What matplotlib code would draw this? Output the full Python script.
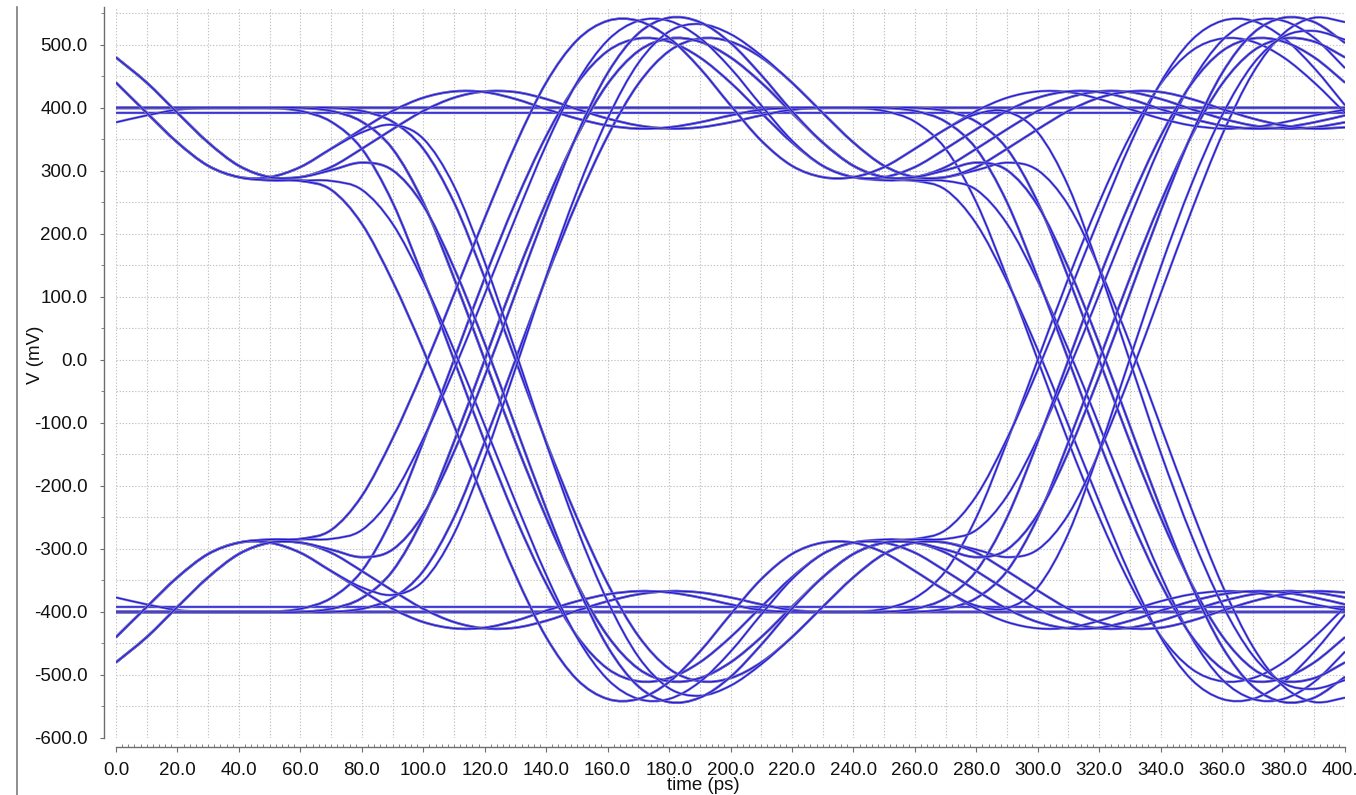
import matplotlib
matplotlib.use("Agg")
import matplotlib.pyplot as plt
from matplotlib.lines import Line2D
from matplotlib.path import Path
from matplotlib.patches import PathPatch
from matplotlib.ticker import MultipleLocator, FormatStrFormatter

plt.rcParams["font.family"] = ["Liberation Sans", "DejaVu Sans"]

# Sample instants of every eye trace (ps)
time_ps = [0, 10, 20, 30, 40, 50, 60, 70, 80, 90,
           100, 110, 120, 130, 140, 150, 160, 170, 180, 190,
           200, 210, 220, 230, 240, 250, 260, 270, 280, 290,
           300, 310, 320, 330, 340, 350, 360, 370, 380, 390, 400]

# Traces whose middle bit (120..320 ps) is high, in mV
high_rise_fall_a = [-400, -400, -400, -400, -400, -400, -400, -395, -378, -335,
                    -250, -130, 0, 130, 250, 355, 438, 490, 510, 505,
                    480, 440, 392, 345, 308, 290, 290, 301, 313, 301,
                    245, 146, 26, -105, -236, -357, -455, -518, -543, -536, -503]
high_rise_fall_b = [-400, -400, -400, -400, -400, -400, -395, -378, -335, -250,
                    -130, 0, 130, 250, 355, 438, 490, 510, 505, 480,
                    440, 392, 345, 308, 290, 285, 284, 270, 216, 125,
                    16, -104, -225, -341, -440, -507, -538, -538, -511, -463, -404]
high_rise_fall_c = [-400, -400, -400, -400, -400, -400, -400, -400, -395, -378,
                    -335, -250, -130, 0, 130, 250, 355, 438, 490, 510,
                    505, 480, 440, 392, 345, 308, 290, 290, 301, 313,
                    301, 245, 146, 26, -105, -236, -357, -455, -518, -543, -536]
high_rise_fall_d = [-400, -400, -400, -400, -400, -400, -400, -395, -378, -335,
                    -250, -130, 0, 130, 250, 355, 438, 490, 510, 505,
                    480, 440, 392, 345, 308, 290, 285, 284, 270, 216,
                    125, 16, -104, -225, -341, -440, -507, -538, -538, -511, -463]
high_rise_hold_a = [-400, -400, -400, -400, -400, -400, -400, -395, -378, -335,
                    -250, -130, 0, 130, 250, 355, 438, 490, 510, 505,
                    480, 440, 392, 345, 308, 290, 290, 306, 335, 366,
                    395, 416, 426, 425, 414, 398, 383, 372, 367, 369, 377]
high_rise_hold_b = [-400, -400, -400, -400, -400, -400, -400, -400, -395, -378,
                    -335, -250, -130, 0, 130, 250, 355, 438, 490, 510,
                    505, 480, 440, 392, 345, 308, 290, 290, 306, 335,
                    366, 395, 416, 426, 425, 414, 398, 383, 372, 367, 369]
high_rise_hold_c = [-400, -400, -400, -400, -400, -400, -395, -378, -335, -250,
                    -130, 0, 130, 250, 355, 438, 490, 510, 505, 480,
                    440, 392, 345, 308, 290, 290, 306, 335, 366, 395,
                    416, 426, 425, 414, 398, 383, 372, 367, 369, 377, 388]
high_hold_fall_a = [480, 440, 392, 345, 308, 290, 290, 306, 335, 366,
                    395, 416, 426, 425, 414, 398, 383, 372, 367, 369,
                    377, 388, 397, 400, 400, 400, 400, 395, 378, 335,
                    250, 130, 0, -130, -250, -355, -438, -490, -510, -505, -480]
high_hold_fall_b = [440, 392, 345, 308, 290, 290, 306, 335, 366, 395,
                    416, 426, 425, 414, 398, 383, 372, 367, 369, 377,
                    388, 397, 400, 400, 400, 400, 395, 378, 335, 250,
                    130, 0, -130, -250, -355, -438, -490, -510, -505, -480, -440]
high_hold_a = [480, 440, 392, 345, 308, 290, 290, 306, 335, 366,
               395, 416, 426, 425, 414, 398, 383, 372, 367, 369,
               377, 388, 397, 400, 400, 400, 400, 400, 400, 400,
               400, 400, 400, 400, 400, 400, 400, 400, 400, 400, 400]
high_hold_b = [440, 392, 345, 308, 290, 290, 306, 335, 366, 395,
               416, 426, 425, 414, 398, 383, 372, 367, 369, 377,
               388, 397, 400, 400, 400, 400, 400, 400, 400, 400,
               400, 400, 400, 400, 400, 400, 400, 400, 400, 400, 400]
high_dip_rise_fall_a = [-480, -440, -392, -345, -308, -290, -290, -301, -313, -301,
                        -245, -146, -26, 105, 236, 357, 455, 518, 543, 536,
                        503, 452, 395, 345, 308, 290, 290, 301, 313, 301,
                        245, 146, 26, -105, -236, -357, -455, -518, -543, -536, -503]
high_dip_rise_fall_b = [-440, -392, -345, -308, -290, -285, -284, -270, -216, -125,
                        -16, 104, 225, 341, 440, 507, 538, 538, 511, 463,
                        404, 348, 308, 290, 290, 306, 335, 366, 390, 394,
                        361, 275, 144, -2, -147, -278, -388, -469, -513, -522, -508]
high_dip_rise_a = [-480, -440, -392, -345, -308, -290, -290, -301, -313, -301,
                   -245, -146, -26, 105, 236, 357, 455, 518, 543, 536,
                   503, 452, 395, 345, 308, 290, 290, 306, 335, 366,
                   395, 416, 426, 425, 414, 398, 383, 372, 367, 369, 377]
high_dip_rise_b = [-440, -392, -345, -308, -290, -285, -284, -270, -216, -125,
                   -16, 104, 225, 341, 440, 507, 538, 538, 511, 463,
                   404, 348, 308, 290, 290, 306, 335, 366, 395, 416,
                   426, 425, 414, 398, 383, 372, 367, 369, 377, 388, 397]
high_dip_rise_c = [-480, -440, -392, -345, -308, -290, -285, -284, -270, -216,
                   -125, -16, 104, 225, 341, 440, 507, 538, 538, 511,
                   463, 404, 348, 308, 290, 290, 306, 335, 366, 395,
                   416, 426, 425, 414, 398, 383, 372, 367, 369, 377, 388]
high_dip_rise_d = [-440, -392, -345, -308, -290, -290, -306, -335, -361, -373,
                   -351, -276, -155, -14, 132, 267, 383, 471, 521, 533,
                   517, 483, 440, 392, 345, 308, 290, 290, 306, 335,
                   366, 395, 416, 426, 425, 414, 398, 383, 372, 367, 369]
high_flat_fall_a = [400, 400, 400, 400, 400, 400, 400, 400, 400, 400,
                    400, 400, 400, 400, 400, 400, 400, 400, 400, 400,
                    400, 400, 400, 400, 400, 400, 400, 395, 378, 335,
                    250, 130, 0, -130, -250, -355, -438, -490, -510, -505, -480]
high_flat_fall_b = [400, 400, 400, 400, 400, 400, 400, 400, 400, 400,
                    400, 400, 400, 400, 400, 400, 400, 400, 400, 400,
                    400, 400, 400, 400, 400, 400, 395, 378, 335, 250,
                    130, 0, -130, -250, -355, -438, -490, -510, -505, -480, -440]
high_flat_fall_c = [400, 400, 400, 400, 400, 400, 400, 400, 400, 400,
                    400, 400, 400, 400, 400, 400, 400, 400, 400, 400,
                    400, 400, 400, 400, 400, 395, 378, 335, 250, 130,
                    0, -130, -250, -355, -438, -490, -510, -505, -480, -440, -392]
high_flat = [400, 400, 400, 400, 400, 400, 400, 400, 400, 400,
             400, 400, 400, 400, 400, 400, 400, 400, 400, 400,
             400, 400, 400, 400, 400, 400, 400, 400, 400, 400,
             400, 400, 400, 400, 400, 400, 400, 400, 400, 400, 400]
high_flat_b = [392, 392, 392, 392, 392, 392, 392, 392, 392, 392,
               392, 392, 392, 392, 392, 392, 392, 392, 392, 392,
               392, 392, 392, 392, 392, 392, 392, 392, 392, 392,
               392, 392, 392, 392, 392, 392, 392, 392, 392, 392, 392]
high_settle = [377, 388, 397, 400, 400, 400, 400, 400, 400, 400,
               400, 400, 400, 400, 400, 400, 400, 400, 400, 400,
               400, 400, 400, 400, 400, 400, 400, 400, 400, 400,
               400, 400, 400, 400, 400, 400, 400, 400, 400, 400, 400]

# Traces whose middle bit (120..320 ps) is low, in mV
low_fall_rise_a = [400, 400, 400, 400, 400, 400, 400, 395, 378, 335,
                   250, 130, 0, -130, -250, -355, -438, -490, -510, -505,
                   -480, -440, -392, -345, -308, -290, -290, -301, -313, -301,
                   -245, -146, -26, 105, 236, 357, 455, 518, 543, 536, 503]
low_fall_rise_b = [400, 400, 400, 400, 400, 400, 395, 378, 335, 250,
                   130, 0, -130, -250, -355, -438, -490, -510, -505, -480,
                   -440, -392, -345, -308, -290, -285, -284, -270, -216, -125,
                   -16, 104, 225, 341, 440, 507, 538, 538, 511, 463, 404]
low_fall_rise_c = [400, 400, 400, 400, 400, 400, 400, 400, 395, 378,
                   335, 250, 130, 0, -130, -250, -355, -438, -490, -510,
                   -505, -480, -440, -392, -345, -308, -290, -290, -301, -313,
                   -301, -245, -146, -26, 105, 236, 357, 455, 518, 543, 536]
low_fall_rise_d = [400, 400, 400, 400, 400, 400, 400, 395, 378, 335,
                   250, 130, 0, -130, -250, -355, -438, -490, -510, -505,
                   -480, -440, -392, -345, -308, -290, -285, -284, -270, -216,
                   -125, -16, 104, 225, 341, 440, 507, 538, 538, 511, 463]
low_fall_hold_a = [400, 400, 400, 400, 400, 400, 400, 395, 378, 335,
                   250, 130, 0, -130, -250, -355, -438, -490, -510, -505,
                   -480, -440, -392, -345, -308, -290, -290, -306, -335, -366,
                   -395, -416, -426, -425, -414, -398, -383, -372, -367, -369, -377]
low_fall_hold_b = [400, 400, 400, 400, 400, 400, 400, 400, 395, 378,
                   335, 250, 130, 0, -130, -250, -355, -438, -490, -510,
                   -505, -480, -440, -392, -345, -308, -290, -290, -306, -335,
                   -366, -395, -416, -426, -425, -414, -398, -383, -372, -367, -369]
low_fall_hold_c = [400, 400, 400, 400, 400, 400, 395, 378, 335, 250,
                   130, 0, -130, -250, -355, -438, -490, -510, -505, -480,
                   -440, -392, -345, -308, -290, -290, -306, -335, -366, -395,
                   -416, -426, -425, -414, -398, -383, -372, -367, -369, -377, -388]
low_hold_rise_a = [-480, -440, -392, -345, -308, -290, -290, -306, -335, -366,
                   -395, -416, -426, -425, -414, -398, -383, -372, -367, -369,
                   -377, -388, -397, -400, -400, -400, -400, -395, -378, -335,
                   -250, -130, 0, 130, 250, 355, 438, 490, 510, 505, 480]
low_hold_rise_b = [-440, -392, -345, -308, -290, -290, -306, -335, -366, -395,
                   -416, -426, -425, -414, -398, -383, -372, -367, -369, -377,
                   -388, -397, -400, -400, -400, -400, -395, -378, -335, -250,
                   -130, 0, 130, 250, 355, 438, 490, 510, 505, 480, 440]
low_hold_a = [-480, -440, -392, -345, -308, -290, -290, -306, -335, -366,
              -395, -416, -426, -425, -414, -398, -383, -372, -367, -369,
              -377, -388, -397, -400, -400, -400, -400, -400, -400, -400,
              -400, -400, -400, -400, -400, -400, -400, -400, -400, -400, -400]
low_hold_b = [-440, -392, -345, -308, -290, -290, -306, -335, -366, -395,
              -416, -426, -425, -414, -398, -383, -372, -367, -369, -377,
              -388, -397, -400, -400, -400, -400, -400, -400, -400, -400,
              -400, -400, -400, -400, -400, -400, -400, -400, -400, -400, -400]
low_bump_fall_rise_a = [480, 440, 392, 345, 308, 290, 290, 301, 313, 301,
                        245, 146, 26, -105, -236, -357, -455, -518, -543, -536,
                        -503, -452, -395, -345, -308, -290, -290, -301, -313, -301,
                        -245, -146, -26, 105, 236, 357, 455, 518, 543, 536, 503]
low_bump_fall_rise_b = [440, 392, 345, 308, 290, 285, 284, 270, 216, 125,
                        16, -104, -225, -341, -440, -507, -538, -538, -511, -463,
                        -404, -348, -308, -290, -290, -306, -335, -366, -390, -394,
                        -361, -275, -144, 2, 147, 278, 388, 469, 513, 522, 508]
low_bump_fall_a = [480, 440, 392, 345, 308, 290, 290, 301, 313, 301,
                   245, 146, 26, -105, -236, -357, -455, -518, -543, -536,
                   -503, -452, -395, -345, -308, -290, -290, -306, -335, -366,
                   -395, -416, -426, -425, -414, -398, -383, -372, -367, -369, -377]
low_bump_fall_b = [440, 392, 345, 308, 290, 285, 284, 270, 216, 125,
                   16, -104, -225, -341, -440, -507, -538, -538, -511, -463,
                   -404, -348, -308, -290, -290, -306, -335, -366, -395, -416,
                   -426, -425, -414, -398, -383, -372, -367, -369, -377, -388, -397]
low_bump_fall_c = [480, 440, 392, 345, 308, 290, 285, 284, 270, 216,
                   125, 16, -104, -225, -341, -440, -507, -538, -538, -511,
                   -463, -404, -348, -308, -290, -290, -306, -335, -366, -395,
                   -416, -426, -425, -414, -398, -383, -372, -367, -369, -377, -388]
low_bump_fall_d = [440, 392, 345, 308, 290, 290, 306, 335, 361, 373,
                   351, 276, 155, 14, -132, -267, -383, -471, -521, -533,
                   -517, -483, -440, -392, -345, -308, -290, -290, -306, -335,
                   -366, -395, -416, -426, -425, -414, -398, -383, -372, -367, -369]
low_flat_rise_a = [-400, -400, -400, -400, -400, -400, -400, -400, -400, -400,
                   -400, -400, -400, -400, -400, -400, -400, -400, -400, -400,
                   -400, -400, -400, -400, -400, -400, -400, -395, -378, -335,
                   -250, -130, 0, 130, 250, 355, 438, 490, 510, 505, 480]
low_flat_rise_b = [-400, -400, -400, -400, -400, -400, -400, -400, -400, -400,
                   -400, -400, -400, -400, -400, -400, -400, -400, -400, -400,
                   -400, -400, -400, -400, -400, -400, -395, -378, -335, -250,
                   -130, 0, 130, 250, 355, 438, 490, 510, 505, 480, 440]
low_flat_rise_c = [-400, -400, -400, -400, -400, -400, -400, -400, -400, -400,
                   -400, -400, -400, -400, -400, -400, -400, -400, -400, -400,
                   -400, -400, -400, -400, -400, -395, -378, -335, -250, -130,
                   0, 130, 250, 355, 438, 490, 510, 505, 480, 440, 392]
low_flat = [-400, -400, -400, -400, -400, -400, -400, -400, -400, -400,
            -400, -400, -400, -400, -400, -400, -400, -400, -400, -400,
            -400, -400, -400, -400, -400, -400, -400, -400, -400, -400,
            -400, -400, -400, -400, -400, -400, -400, -400, -400, -400, -400]
low_flat_b = [-392, -392, -392, -392, -392, -392, -392, -392, -392, -392,
              -392, -392, -392, -392, -392, -392, -392, -392, -392, -392,
              -392, -392, -392, -392, -392, -392, -392, -392, -392, -392,
              -392, -392, -392, -392, -392, -392, -392, -392, -392, -392, -392]
low_settle = [-377, -388, -397, -400, -400, -400, -400, -400, -400, -400,
              -400, -400, -400, -400, -400, -400, -400, -400, -400, -400,
              -400, -400, -400, -400, -400, -400, -400, -400, -400, -400,
              -400, -400, -400, -400, -400, -400, -400, -400, -400, -400, -400]

x_ticks = [0, 20, 40, 60, 80, 100, 120, 140, 160, 180, 200,
           220, 240, 260, 280, 300, 320, 340, 360, 380, 400]
y_ticks = [-600, -500, -400, -300, -200, -100, 0, 100, 200, 300, 400, 500]

traces = [
    high_flat, low_flat, high_flat_b, low_flat_b, high_settle, low_settle,
    high_hold_a, high_hold_b, low_hold_a, low_hold_b,
    high_flat_fall_a, high_flat_fall_b, high_flat_fall_c,
    low_flat_rise_a, low_flat_rise_b, low_flat_rise_c,
    high_rise_hold_a, high_rise_hold_b, high_rise_hold_c,
    low_fall_hold_a, low_fall_hold_b, low_fall_hold_c,
    high_rise_fall_a, high_rise_fall_b, high_rise_fall_c, high_rise_fall_d,
    low_fall_rise_a, low_fall_rise_b, low_fall_rise_c, low_fall_rise_d,
    high_hold_fall_a, high_hold_fall_b, low_hold_rise_a, low_hold_rise_b,
    high_dip_rise_a, high_dip_rise_b, high_dip_rise_c, high_dip_rise_d,
    low_bump_fall_a, low_bump_fall_b, low_bump_fall_c, low_bump_fall_d,
    high_dip_rise_fall_a, high_dip_rise_fall_b,
    low_bump_fall_rise_a, low_bump_fall_rise_b,
]
for tr in traces:
    assert len(tr) == len(time_ps)


def trace_path(xs, ys):
    """Smooth cubic path running through every sample of a trace."""
    n = len(xs)
    verts = [(xs[0], ys[0])]
    codes = [Path.MOVETO]
    for i in range(n - 1):
        a, b = max(i - 1, 0), min(i + 2, n - 1)
        c1 = (xs[i] + (xs[i + 1] - xs[a]) / 6, ys[i] + (ys[i + 1] - ys[a]) / 6)
        c2 = (xs[i + 1] - (xs[b] - xs[i]) / 6, ys[i + 1] - (ys[b] - ys[i]) / 6)
        verts += [c1, c2, (xs[i + 1], ys[i + 1])]
        codes += [Path.CURVE4] * 3
    return Path(verts, codes)


W, H = 1356, 795
fig = plt.figure(figsize=(W / 100, H / 100), dpi=100)
ax = fig.add_axes([116 / W, (H - 738) / H, (1345 - 116) / W, (738 - 7) / H])
ax.set_xlim(0, 400)
ax.set_ylim(-600, 560)

# dotted background grid: 10 ps by 50 mV
grid_kw = dict(color="#c2c2c2", lw=0.8, linestyle=(0, (1.2, 1.6)), zorder=0)
for gx in range(0, 401, 10):
    ax.axvline(gx, **grid_kw)
for gy in range(-600, 551, 50):
    ax.axhline(gy, **grid_kw)

# each trace: grey-violet rim with a saturated blue core
for tr in traces:
    p = trace_path(time_ps, tr)
    ax.add_patch(PathPatch(p, facecolor="none", edgecolor="#7f7cab", lw=1.8,
                           joinstyle="round", zorder=2))
    ax.add_patch(PathPatch(p, facecolor="none", edgecolor="#1c10ff", lw=0.8,
                           joinstyle="round", zorder=2))

for side in ("top", "right"):
    ax.spines[side].set_visible(False)
ax.spines["left"].set_position(("outward", 8.6))
ax.spines["bottom"].set_position(("outward", 6.5))
for side in ("left", "bottom"):
    ax.spines[side].set_color("#6e6e6e")
    ax.spines[side].set_linewidth(1.0)

ax.set_xticks(x_ticks)
ax.xaxis.set_minor_locator(MultipleLocator(2))
ax.set_yticks(y_ticks)
ax.yaxis.set_minor_locator(MultipleLocator(50))
ax.xaxis.set_major_formatter(FormatStrFormatter("%.1f"))
ax.yaxis.set_major_formatter(FormatStrFormatter("%.1f"))

ax.tick_params(axis="x", which="major", direction="out", length=3.5, width=0.8,
               color="#6e6e6e", pad=7, labelsize=13.5, labelcolor="#111111")
ax.tick_params(axis="x", which="minor", direction="in", length=2, width=0.6,
               color="#6e6e6e")
ax.tick_params(axis="y", which="major", direction="out", length=3, width=0.8,
               color="#6e6e6e", pad=9, labelsize=13.5, labelcolor="#111111")
ax.tick_params(axis="y", which="minor", direction="out", length=2, width=0.6,
               color="#6e6e6e")

fig.text(35 / W, 1 - 355 / H, "V (mV)", rotation=90, ha="center", va="center",
         fontsize=13.5, color="#111111")
fig.text(703 / W, (H - 777) / H, "time (ps)", ha="center", va="top",
         fontsize=13.5, color="#111111")

fig.add_artist(Line2D([17 / W, 17 / W], [0, (H - 7) / H], color="#7a7a7a", lw=1.2))

fig.savefig("out.png", dpi=100)
